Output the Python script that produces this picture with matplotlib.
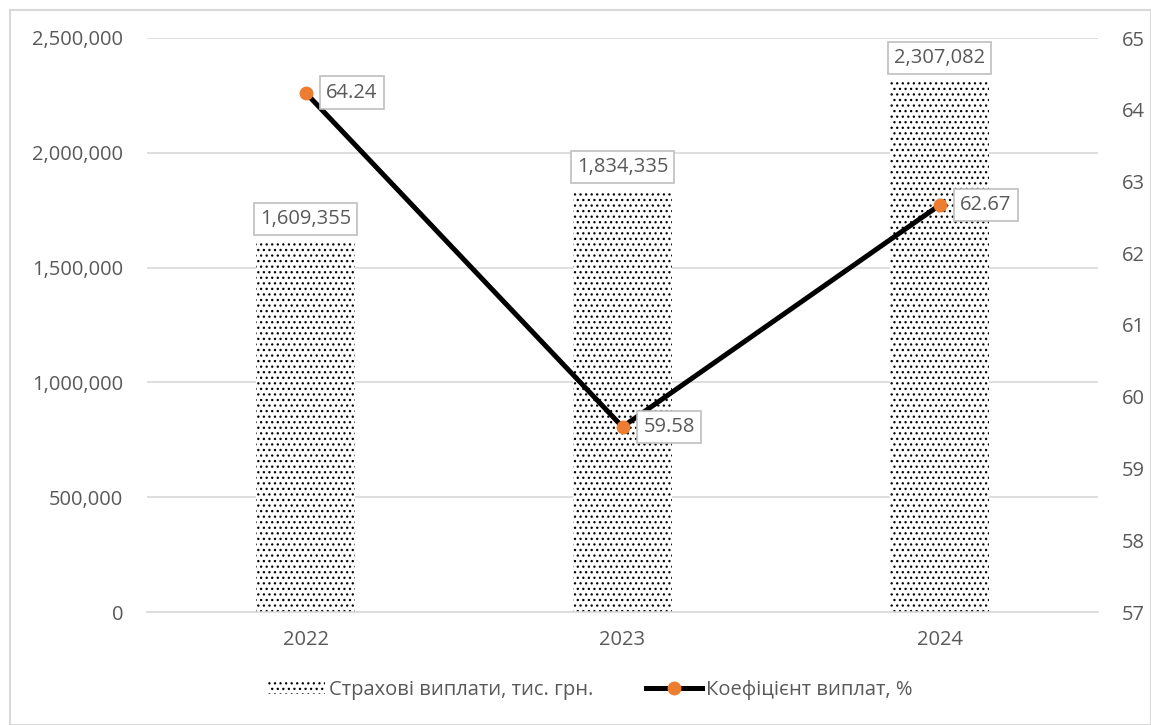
import numpy as np
import matplotlib.pyplot as plt
from matplotlib.lines import Line2D
from matplotlib.patches import Patch

plt.rcParams['font.family'] = ['Open Sans', 'DejaVu Sans']
plt.rcParams['hatch.linewidth'] = 0.9
plt.rcParams['hatch.color'] = 'black'

years = ['2022', '2023', '2024']
payouts = [1609355, 1834335, 2307082]
ratio = [64.24, 59.58, 62.67]

TXT = '#595959'
GRID = '#D9D9D9'
ORANGE = '#ED7D31'
FS = 14.5

fig = plt.figure(figsize=(11.51, 7.25), dpi=100)
ax = fig.add_axes([147 / 1151, 1 - 612 / 725, (1098 - 147) / 1151, (612 - 38) / 725])
ax2 = ax.twinx()

x = np.arange(len(years))
ax.bar(x, payouts, width=0.315, color='white', edgecolor='black', linewidth=0,
       hatch='...', zorder=2)
ax.set_xlim(-0.5, 2.5)
ax.set_ylim(0, 2500000)
ax.set_yticks(np.arange(0, 2500001, 500000))
ax.yaxis.set_major_formatter(plt.FuncFormatter(lambda v, p: f'{int(v):,}'))
ax.set_xticks(x)
ax.set_xticklabels(years)
ax.grid(axis='y', color=GRID, linewidth=1.2, zorder=0)
ax.set_axisbelow(True)
for s in ['top', 'right', 'left']:
    ax.spines[s].set_visible(False)
ax.spines['bottom'].set_color(GRID)
ax.spines['bottom'].set_linewidth(1.2)
ax.tick_params(axis='y', length=0, labelsize=FS, colors=TXT, pad=17)
ax.tick_params(axis='x', length=0, labelsize=FS, colors=TXT, pad=13)

box = dict(boxstyle='square,pad=0.3', fc='white', ec='#BFBFBF', lw=1.2)

for xi, v in zip(x, payouts):
    ax.annotate(f'{v:,}', (xi, v), xytext=(0, 10), textcoords='offset points',
                ha='center', va='bottom', fontsize=FS, color=TXT, zorder=5, bbox=box)

ax2.plot(x, ratio, color='black', linewidth=3.6, marker='o', markersize=9,
         markerfacecolor=ORANGE, markeredgecolor=ORANGE, zorder=3)
ax2.set_ylim(57, 65)
ax2.set_yticks(range(57, 66))
for s in ax2.spines.values():
    s.set_visible(False)
ax2.tick_params(axis='y', length=0, labelsize=FS, colors=TXT, pad=17)

for xi, v in zip(x, ratio):
    ax2.annotate(f'{v:.2f}', (xi, v), xytext=(15, 0), textcoords='offset points',
                 ha='left', va='center', fontsize=FS, color=TXT, zorder=5, bbox=box)

handles = [Patch(facecolor='white', edgecolor='black', linewidth=0, hatch='...'),
           Line2D([0], [0], color='black', linewidth=3.6, marker='o', markersize=9,
                  markerfacecolor=ORANGE, markeredgecolor=ORANGE)]
labels = ['Страхові виплати, тис. грн.', 'Коефіцієнт виплат, %']
fig.legend(handles, labels, loc='center', bbox_to_anchor=(0.513, 1 - 690 / 725),
           ncol=2, frameon=False, fontsize=FS, handlelength=2.8, handleheight=0.6,
           handletextpad=0.2, columnspacing=2.6, labelcolor=TXT)

fig.patches.append(plt.Rectangle((10 / 1151, 0), 1 - 10 / 1151, 1 - 10 / 725,
                                 transform=fig.transFigure, fill=False,
                                 edgecolor=GRID, linewidth=1.5))

fig.savefig('out.png', dpi=100)
